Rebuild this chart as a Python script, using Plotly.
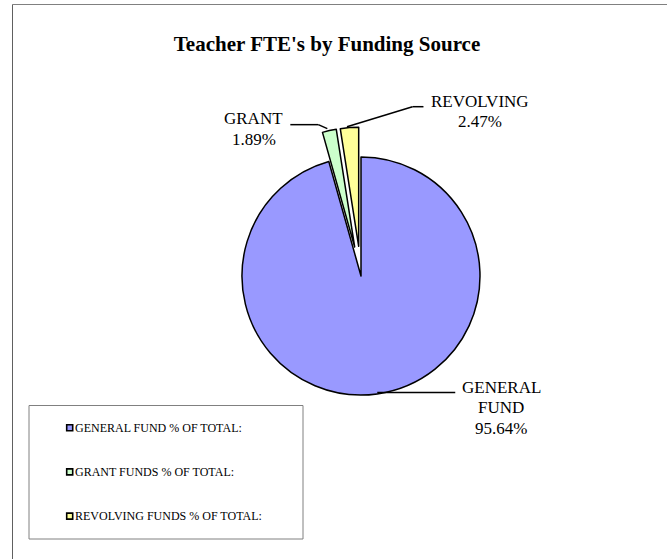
import math
import plotly.graph_objects as go

# ---------------- data ----------------
legend_names = ["GENERAL FUND % OF TOTAL:", "GRANT FUNDS % OF TOTAL:", "REVOLVING FUNDS % OF TOTAL:"]
slice_names = ["GENERAL FUND", "GRANT", "REVOLVING"]
values = [95.64, 1.89, 2.47]
title_text = "Teacher FTE's by Funding Source"

# ---------------- style ----------------
colors = ["#9999FF", "#CCFFCC", "#FFFF99"]
pulls = [0.0, 0.25, 0.25]
wrap_name = [True, False, False]
# leader-line bends (offsets from slice anchor, px) and label offsets (px)
leader_offsets = [
    [(0, -1.5), (78, -1.5)],
    [(-2, -2), (-11, -6), (-39, -6)],
    [(-2.5, -1), (63, -21), (74, -21)],
]
label_offsets = [(124, -6.5), (-75.4, -11.7), (130.5, -26.2)]
LINE_GAP = 20.5
FONT = "Liberation Serif, Times New Roman, serif"

W, H = 667, 559
CX, CY, R = 361, 276, 119


def px(x):
    return x / W


def py(y):
    return 1 - y / H


maxpull = max(pulls)
half = R * (1 + maxpull)

fig = go.Figure(
    go.Pie(
        labels=legend_names,
        values=values,
        sort=False,
        direction="clockwise",
        rotation=0,
        pull=pulls,
        marker=dict(colors=colors, line=dict(color="black", width=1.5)),
        textinfo="none",
        hoverinfo="label+percent",
        showlegend=False,
        domain=dict(x=[px(CX - half), px(CX + half)], y=[py(CY + half), py(CY - half)]),
    )
)

shapes = []
annotations = []

# outer chart border (partially cropped in the reference)
shapes.append(dict(type="line", xref="paper", yref="paper", x0=px(12.5), x1=1.05, y0=py(4.5), y1=py(4.5),
                   line=dict(color="#808080", width=1)))
shapes.append(dict(type="line", xref="paper", yref="paper", x0=px(12.5), x1=px(12.5), y0=py(4.5), y1=-0.05,
                   line=dict(color="#606060", width=1)))

# slice labels with leader lines
total = sum(values)
cum = 0.0
for i, v in enumerate(values):
    mid = (cum + v / 2) / total * 2 * math.pi
    cum += v
    r = R * (1 + pulls[i])
    ax = CX + r * math.sin(mid)
    ay = CY - r * math.cos(mid)
    pts = [(ax + dx, ay + dy) for dx, dy in leader_offsets[i]]
    for (x0, y0), (x1, y1) in zip(pts[:-1], pts[1:]):
        shapes.append(dict(type="line", xref="paper", yref="paper",
                           x0=px(x0), y0=py(y0), x1=px(x1), y1=py(y1),
                           line=dict(color="black", width=1.5)))
    lines = slice_names[i].split(" ") if wrap_name[i] else [slice_names[i]]
    lines.append(f"{v / total * 100:.2f}%")
    lx = ax + label_offsets[i][0]
    ly = ay + label_offsets[i][1]
    for k, t in enumerate(lines):
        annotations.append(dict(text=t, x=px(lx), y=py(ly + k * LINE_GAP), xref="paper", yref="paper",
                                xanchor="center", yanchor="middle", showarrow=False,
                                font=dict(family=FONT, size=17, color="black")))

# legend box
LEG_X0, LEG_X1, LEG_Y0, LEG_Y1 = 29, 303, 405.5, 539
shapes.append(dict(type="rect", xref="paper", yref="paper", x0=px(LEG_X0), x1=px(LEG_X1),
                   y0=py(LEG_Y1), y1=py(LEG_Y0), line=dict(color="#808080", width=1), fillcolor="white",
                   layer="below"))
ROW0, ROW_GAP, SW_X, SW = 427.7, 44.2, 66.7, 6
for i, name in enumerate(legend_names):
    yc = ROW0 + i * ROW_GAP
    shapes.append(dict(type="rect", xref="paper", yref="paper", x0=px(SW_X), x1=px(SW_X + SW),
                       y0=py(yc + SW / 2), y1=py(yc - SW / 2), fillcolor=colors[i],
                       line=dict(color="black", width=1.6)))
    annotations.append(dict(text=name, x=px(SW_X + SW + 0.5), y=py(yc), xref="paper", yref="paper",
                            xanchor="left", yanchor="middle", showarrow=False,
                            font=dict(family=FONT, size=12, color="black")))

fig.update_layout(
    width=W,
    height=H,
    margin=dict(l=0, r=0, t=0, b=0),
    paper_bgcolor="white",
    plot_bgcolor="white",
    title=dict(text=title_text, x=px(327), y=py(43.5), xanchor="center", yanchor="middle",
               font=dict(family=FONT, size=21, color="black", weight="bold")),
    shapes=shapes,
    annotations=annotations,
    showlegend=False,
)

fig.write_html("out.html", config={"displayModeBar": False},
               post_script="document.body.style.margin='0';")
